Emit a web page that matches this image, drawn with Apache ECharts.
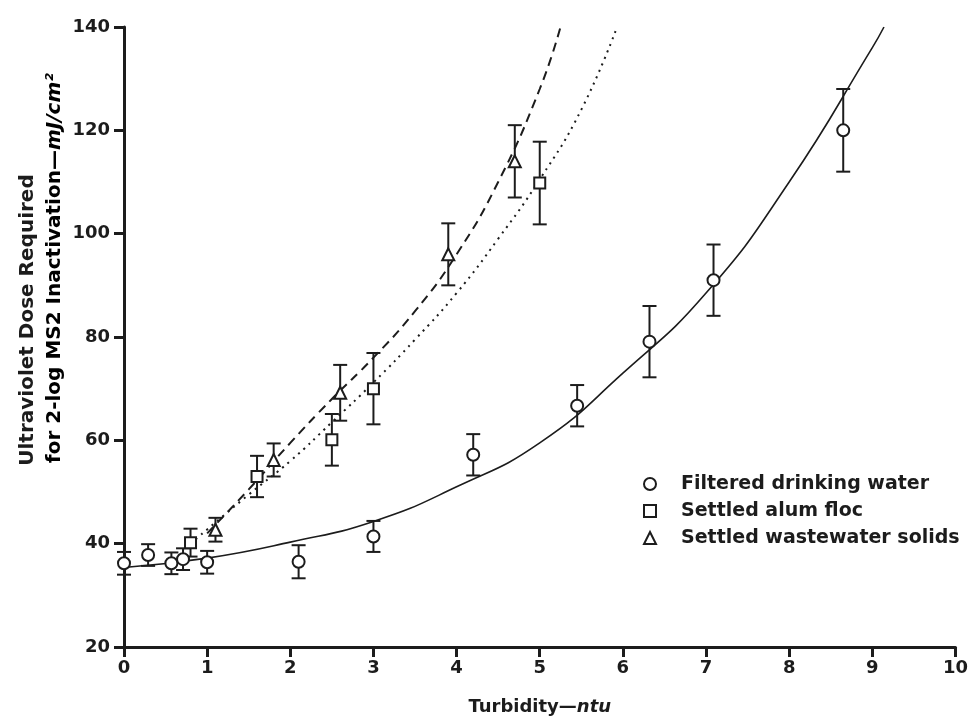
<!DOCTYPE html>
<html>
<head>
<meta charset="utf-8">
<style>
  html, body { margin: 0; padding: 0; background: #fff; }
  #chart { width: 971px; height: 726px; }
</style>
<script src="https://cdn.jsdelivr.net/npm/echarts@6/dist/echarts.min.js"></script>
</head>
<body>
<div id="chart"></div>
<script>
// measured points (turbidity ntu, UV dose mJ/cm2, +/- error)
const filteredX = [0, 0.29, 0.57, 0.71, 1.0, 2.1, 3.0, 4.2, 5.45, 6.32, 7.09, 8.65]
const filteredY = [36.2, 37.8, 36.2, 37.0, 36.4, 36.5, 41.4, 57.2, 66.7, 79.1, 91, 120]
const filteredErr = [2.2, 2.1, 2.1, 2.1, 2.2, 3.2, 3.0, 4.0, 4.0, 6.9, 6.9, 8.0]

const alumX = [0.8, 1.6, 2.5, 3.0, 5.0]
const alumY = [40.2, 53, 60.1, 70, 109.8]
const alumErr = [2.7, 4.0, 5.0, 6.9, 8.0]

const wasteX = [1.1, 1.8, 2.6, 3.9, 4.7]
const wasteY = [42.7, 56.2, 69.2, 96, 114]
const wasteErr = [2.3, 3.2, 5.4, 6.0, 7.0]

// fitted curves
const solidX = [0, 1, 2, 3, 4, 5, 6, 7, 8, 9, 9.14]
const solidY = [35.4, 37.2, 40.3, 44.3, 51, 59.5, 73, 88.5, 110, 136, 140]

const dottedX = [0.8, 1.5, 2.0, 2.5, 3.0, 3.5, 4.0, 4.5, 5.0, 5.5, 5.93]
const dottedY = [40, 49.5, 56, 63.5, 71.2, 79.5, 88.5, 99, 110.5, 124, 140]

const dashedX = [1.0, 1.5, 2.0, 2.5, 3.0, 3.5, 4.0, 4.5, 5.0, 5.25]
const dashedY = [42, 50.5, 59.5, 68, 76, 85, 96, 110, 128, 140]

const FONT = '"DejaVu Sans", "Liberation Sans", sans-serif'
const INK = '#1c1c1c'

function pairs(xs, ys) {
  return xs.map((x, i) => [x, ys[i]])
}

function bars(xs, ys, err) {
  return xs.map((x, i) => [x, ys[i] - err[i], ys[i] + err[i]])
}

function renderErrorBar(params, api) {
  const x = api.value(0)
  const lo = api.coord([x, api.value(1)])
  const hi = api.coord([x, api.value(2)])
  const cap = 7
  const style = { stroke: INK, lineWidth: 2 }
  return {
    type: 'group',
    children: [
      { type: 'line', shape: { x1: lo[0], y1: lo[1], x2: hi[0], y2: hi[1] }, style },
      { type: 'line', shape: { x1: lo[0] - cap, y1: lo[1], x2: lo[0] + cap, y2: lo[1] }, style },
      { type: 'line', shape: { x1: hi[0] - cap, y1: hi[1], x2: hi[0] + cap, y2: hi[1] }, style },
    ],
  }
}

function errorSeries(xs, ys, err) {
  return {
    type: 'custom',
    renderItem: renderErrorBar,
    data: bars(xs, ys, err),
    encode: { x: 0, y: [1, 2] },
    silent: true,
    z: 3,
  }
}

function fitSeries(name, xs, ys, type, width) {
  return {
    name,
    type: 'line',
    data: pairs(xs, ys),
    showSymbol: false,
    smooth: 0.5,
    silent: true,
    lineStyle: { color: INK, width, type },
    z: 2,
  }
}

function pointSeries(name, xs, ys, symbol, size) {
  return {
    name,
    type: 'scatter',
    data: pairs(xs, ys),
    symbol,
    symbolSize: size,
    itemStyle: { color: '#fff', borderColor: INK, borderWidth: 2, opacity: 1 },
    z: 5,
  }
}

const axisLabelStyle = { fontFamily: FONT, fontWeight: 'bold', fontSize: 18, color: INK }

const chart = echarts.init(document.getElementById('chart'), null, { renderer: 'canvas' })

chart.setOption({
  animation: false,
  backgroundColor: '#fff',
  grid: { left: 124, right: 13, top: 27, bottom: 79 },
  legend: {
    orient: 'vertical',
    left: 638,
    top: 469,
    itemWidth: 12,
    itemHeight: 12,
    itemGap: 7,
    selectedMode: false,
    data: ['Filtered drinking water', 'Settled alum floc', 'Settled wastewater solids'],
    textStyle: {
      fontFamily: FONT, fontWeight: 'bold', fontSize: 19, color: INK,
      lineHeight: 20, padding: [0, 0, 0, 20],
    },
  },
  xAxis: {
    type: 'value',
    min: 0,
    max: 10,
    interval: 1,
    name: '{b|Turbidity—}{i|ntu}',
    nameLocation: 'middle',
    nameGap: 51,
    nameTextStyle: {
      rich: {
        b: { fontFamily: FONT, fontWeight: 'bold', fontSize: 18, color: INK },
        i: { fontFamily: FONT, fontWeight: 'bold', fontStyle: 'italic', fontSize: 18, color: INK },
      },
    },
    axisLine: { lineStyle: { color: INK, width: 3 } },
    axisTick: { length: 10, lineStyle: { color: INK, width: 3 } },
    axisLabel: { ...axisLabelStyle, margin: 12 },
    splitLine: { show: false },
  },
  yAxis: {
    type: 'value',
    min: 20,
    max: 140,
    interval: 20,
    axisLine: { show: true, lineStyle: { color: INK, width: 3 } },
    axisTick: { show: true, length: 10, lineStyle: { color: INK, width: 3 } },
    axisLabel: { ...axisLabelStyle, margin: 14 },
    splitLine: { show: false },
  },
  graphic: [
    {
      type: 'text',
      x: 28,
      y: 320,
      rotation: Math.PI / 2,
      style: {
        text: 'Ultraviolet Dose Required',
        font: 'bold 20px ' + FONT,
        fill: INK,
        textAlign: 'center',
        textVerticalAlign: 'middle',
      },
    },
    {
      type: 'text',
      x: 55,
      y: 268,
      rotation: Math.PI / 2,
      style: {
        text: '{b|for 2-log MS2 Inactivation—}{i|mJ/cm²}',
        rich: {
          b: { fontFamily: FONT, fontWeight: 'bold', fontSize: 20, color: INK },
          i: { fontFamily: FONT, fontWeight: 'bold', fontStyle: 'italic', fontSize: 20, color: INK },
        },
        textAlign: 'center',
        textVerticalAlign: 'middle',
      },
    },
  ],
  series: [
    fitSeries('fit-filtered', solidX, solidY, 'solid', 1.6),
    fitSeries('fit-alum', dottedX, dottedY, [2, 5], 2),
    fitSeries('fit-waste', dashedX, dashedY, [9, 6], 2),
    errorSeries(filteredX, filteredY, filteredErr),
    errorSeries(alumX, alumY, alumErr),
    errorSeries(wasteX, wasteY, wasteErr),
    pointSeries('Filtered drinking water', filteredX, filteredY, 'circle', 12),
    pointSeries('Settled alum floc', alumX, alumY, 'rect', 11),
    pointSeries('Settled wastewater solids', wasteX, wasteY, 'triangle', 12),
  ],
})

window.addEventListener('resize', () => chart.resize())
</script>
</body>
</html>
